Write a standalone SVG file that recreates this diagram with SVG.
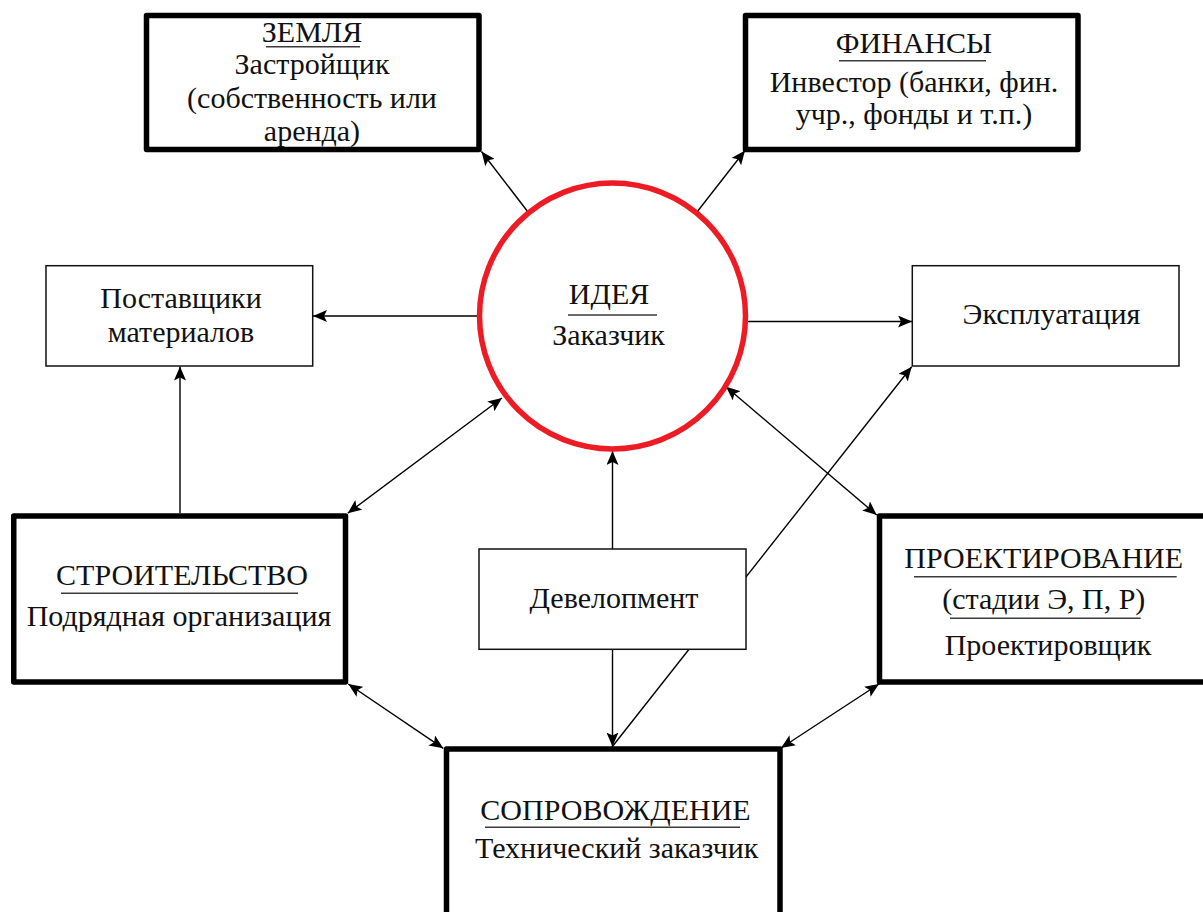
<svg xmlns="http://www.w3.org/2000/svg" width="1203" height="912" viewBox="0 0 1203 912">
<defs>
<marker id="ah" markerUnits="userSpaceOnUse" markerWidth="16" markerHeight="12" refX="14" refY="6" orient="auto-start-reverse" viewBox="0 0 16 12">
<path d="M0,0 L14,6 L0,12 L3,6 Z" fill="#000"/>
</marker>
<style>
.t{font-family:"Liberation Serif","Times New Roman",serif;font-size:30px;fill:#111;text-anchor:middle}
.thick{fill:#fff;stroke:#000;stroke-width:5.5;stroke-linejoin:round}
.thin{fill:#fff;stroke:#111;stroke-width:1.5}
.ul{stroke:#3a3a3a;stroke-width:1.6}
.c{stroke:#000;stroke-width:1.4;fill:none}
.a{marker-end:url(#ah)}
.b{marker-start:url(#ah);marker-end:url(#ah)}
</style>
</defs>
<rect width="1203" height="912" fill="#fff"/>
<g id="connectors">
<line class="c a" x1="528" y1="212" x2="481.5" y2="151.5"/>
<line class="c a" x1="697" y1="212" x2="745" y2="150.5"/>
<line class="c a" x1="479" y1="316" x2="313" y2="316"/>
<line class="c a" x1="745" y1="321.5" x2="912" y2="321.5"/>
<line class="c a" x1="180" y1="513" x2="180" y2="366.5"/>
<line class="c b" x1="502" y1="398" x2="347.7" y2="513.3"/>
<line class="c b" x1="726" y1="386.7" x2="876.7" y2="515"/>
<line class="c a" x1="612.5" y1="549" x2="612.5" y2="451"/>
<line class="c a" x1="612.5" y1="649.3" x2="612.5" y2="746.5"/>
<line class="c a" x1="612" y1="747" x2="911.7" y2="366.7"/>
<line class="c b" x1="348.3" y1="684" x2="443.3" y2="748.3"/>
<line class="c b" x1="879" y1="684" x2="781" y2="748"/>
</g>
<g id="zemlya">
<rect class="thick" x="146.5" y="15.5" width="332.5" height="134"/>
<text class="t" x="312" y="41.5">ЗЕМЛЯ</text>
<line class="ul" x1="266" y1="46.7" x2="360" y2="46.7"/>
<text class="t" x="312" y="73.5">Застройщик</text>
<text class="t" x="312" y="107.5">(собственность или</text>
<text class="t" x="312" y="140.5">аренда)</text>
</g>
<g id="finansy">
<rect class="thick" x="745.5" y="15.5" width="332.5" height="134"/>
<text class="t" x="914" y="53">ФИНАНСЫ</text>
<line class="ul" x1="839" y1="60.7" x2="986" y2="60.7"/>
<text class="t" x="914" y="91.5">Инвестор (банки, фин.</text>
<text class="t" x="914" y="124">учр., фонды и т.п.)</text>
</g>
<g id="ideya">
<circle cx="612.5" cy="316" r="133" fill="#fff" stroke="#ED1C24" stroke-width="5.5"/>
<text class="t" x="609" y="304">ИДЕЯ</text>
<line class="ul" x1="568" y1="315" x2="657" y2="315"/>
<text class="t" x="608.5" y="345">Заказчик</text>
</g>
<g id="postavshchiki">
<rect class="thin" x="46" y="265.7" width="266.7" height="100.3"/>
<text class="t" x="181" y="308.3">Поставщики</text>
<text class="t" x="181" y="341.7">материалов</text>
</g>
<g id="ekspluatatsiya">
<rect class="thin" x="912.3" y="265.7" width="266.7" height="100.3"/>
<text class="t" x="1051.5" y="324">Эксплуатация</text>
</g>
<g id="stroitelstvo">
<rect class="thick" x="13.75" y="516" width="331.75" height="166"/>
<text class="t" x="182" y="585">СТРОИТЕЛЬСТВО</text>
<line class="ul" x1="61" y1="593.3" x2="298" y2="593.3"/>
<text class="t" x="179" y="626">Подрядная организация</text>
</g>
<g id="development">
<rect class="thin" x="479" y="549" width="267" height="100.3"/>
<text class="t" x="614" y="608.3">Девелопмент</text>
</g>
<g id="proektirovanie">
<rect class="thick" x="879.5" y="516" width="340" height="166"/>
<text class="t" x="1043.7" y="568.3">ПРОЕКТИРОВАНИЕ</text>
<line class="ul" x1="914" y1="576.7" x2="1176.7" y2="576.7"/>
<text class="t" x="1043.8" y="609.3">(стадии Э, П, Р)</text>
<line class="ul" x1="950" y1="618.3" x2="1140.7" y2="618.3"/>
<text class="t" x="1048" y="655">Проектировщик</text>
</g>
<g id="soprovozhdenie">
<rect class="thick" x="446.5" y="749" width="333.5" height="200"/>
<text class="t" x="615.5" y="820">СОПРОВОЖДЕНИЕ</text>
<line class="ul" x1="485" y1="827.3" x2="740" y2="827.3"/>
<text class="t" x="616.7" y="858.3">Технический заказчик</text>
</g>
</svg>
